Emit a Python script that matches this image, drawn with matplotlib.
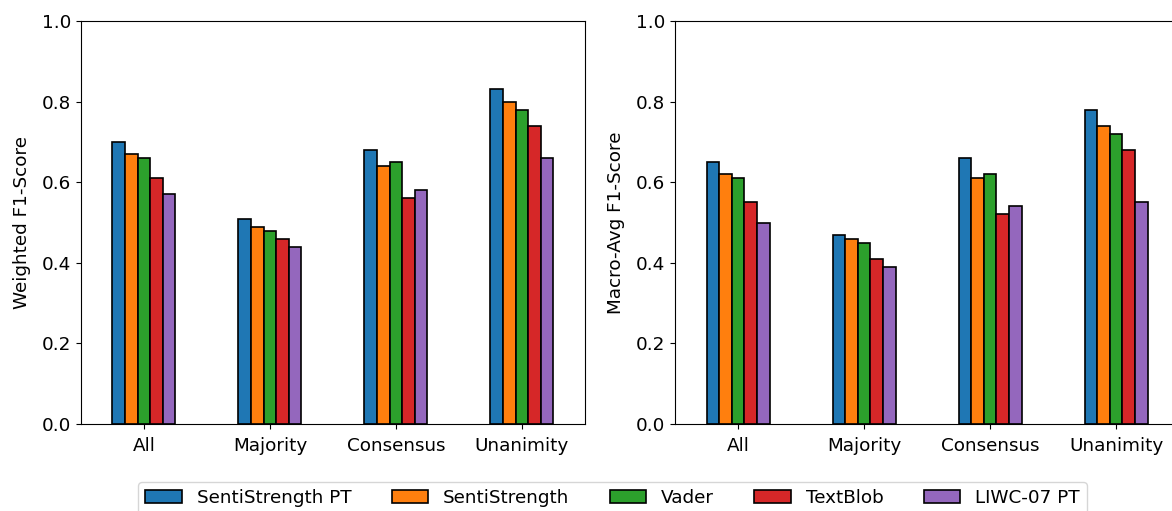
import numpy as np
import matplotlib
matplotlib.use("Agg")
import matplotlib.pyplot as plt

plt.rcParams["font.size"] = 13.2
plt.rcParams["xtick.major.pad"] = 5.5

categories = ["All", "Majority", "Consensus", "Unanimity"]
methods = ["SentiStrength PT", "SentiStrength", "Vader", "TextBlob", "LIWC-07 PT"]
colors = ["#1f77b4", "#ff7f0e", "#2ca02c", "#d62728", "#9467bd"]

weighted_f1 = {
    "SentiStrength PT": [0.70, 0.51, 0.68, 0.83],
    "SentiStrength":    [0.67, 0.49, 0.64, 0.80],
    "Vader":            [0.66, 0.48, 0.65, 0.78],
    "TextBlob":         [0.61, 0.46, 0.56, 0.74],
    "LIWC-07 PT":       [0.57, 0.44, 0.58, 0.66],
}
macro_f1 = {
    "SentiStrength PT": [0.65, 0.47, 0.66, 0.78],
    "SentiStrength":    [0.62, 0.46, 0.61, 0.74],
    "Vader":            [0.61, 0.45, 0.62, 0.72],
    "TextBlob":         [0.55, 0.41, 0.52, 0.68],
    "LIWC-07 PT":       [0.50, 0.39, 0.54, 0.55],
}

fig = plt.figure(figsize=(11.72, 5.11), dpi=100)
ax1 = fig.add_axes([0.0691, 0.170, 0.430, 0.789])
ax2 = fig.add_axes([0.5760, 0.170, 0.430, 0.789])

x = np.arange(len(categories))
width = 0.1


def draw(ax, data, ylabel):
    handles = []
    for i, m in enumerate(methods):
        h = ax.bar(x + (i - 2) * width, data[m], width, color=colors[i],
                   edgecolor="black", linewidth=1.2, label=m)
        handles.append(h)
    ax.set_xticks(x)
    ax.set_xticklabels(categories)
    ax.set_xlim(-0.5, len(categories) - 0.5)
    ax.set_ylim(0, 1.0)
    ax.set_ylabel(ylabel, labelpad=8)
    return handles


handles = draw(ax1, weighted_f1, "Weighted F1-Score")
draw(ax2, macro_f1, "Macro-Avg F1-Score")

fig.legend(handles, methods, loc="upper center", ncol=5,
           bbox_to_anchor=(0.5226, 0.0568), borderaxespad=0,
           columnspacing=2.2, frameon=True)

fig.savefig("out.png", dpi=100)
